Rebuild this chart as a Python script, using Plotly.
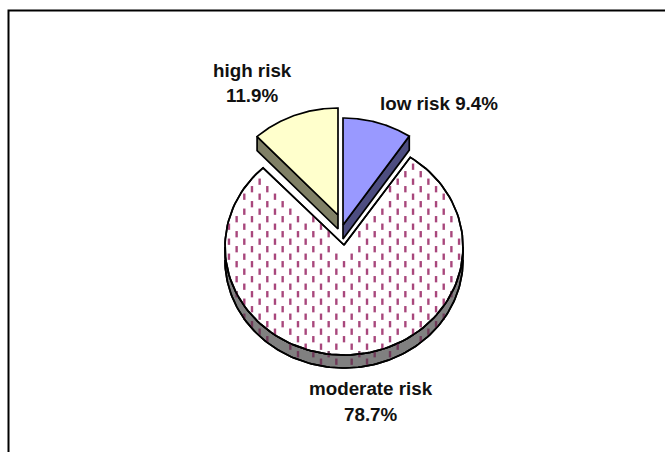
import numpy as np
import plotly.graph_objects as go

# Data
categories = ["low risk", "moderate risk", "high risk"]
values = [9.4, 78.7, 11.9]

W, H = 665, 452
FONT = "Liberation Sans, Arial, sans-serif"
OUT = "#000000"
DEPTH = 14
RX = 119


def arc(cx, cy, ry, a0, a1, n=120):
    t = np.radians(np.linspace(a0, a1, n))
    return cx + RX * np.sin(t), cy - ry * np.cos(t)


edges = np.concatenate([[0], np.cumsum(values)]) * 3.6
fig = go.Figure()


def poly(x, y, fill, width=1.7):
    x = np.append(x, x[0])
    y = np.append(y, y[0])
    fig.add_trace(go.Scatter(x=x, y=y, mode="lines", fill="toself", fillcolor=fill,
                             line=dict(color=OUT, width=width), hoverinfo="skip", showlegend=False))


# Moderate slice (index 1): depth band, face, dashes, outline
cx, cy, ry = 344, 247, 108
apex_y = 245
a0, a1 = edges[1], edges[2]
bx, by = arc(cx, cy, ry, 90, 270)
poly(np.concatenate([bx, bx[::-1]]), np.concatenate([by + DEPTH - 1, by[::-1]]), "#808080")
mx, my = arc(cx, cy, ry, a0, a1)
poly(np.concatenate([[cx], mx]), np.concatenate([[apex_y], my]), "#FFFFFF")

gx, gy, sx, sy = [], [], [], []
for i in range(-4, 32):
    for j in range(-8, 14):
        x = 244.3 + 7.67 * i
        y = 226.7 + 15 * j + (7.5 if i % 2 else 0)
        dx, dy = (x - cx) / RX, (y - cy) / ry
        ang = np.degrees(np.arctan2(dx, -dy)) % 360
        inside = dx * dx + dy * dy < 0.97
        if inside and a0 + 2 < ang < a1 - 2 and np.hypot(x - cx, y - apex_y) > 10:
            gx.append(x)
            gy.append(y)
        else:
            dy2 = (y - cy - DEPTH + 1) / ry
            if dx * dx + dy2 * dy2 < 0.98 and dy > 0 and dx * dx + dy * dy >= 1.0:
                sx.append(x)
                sy.append(y)
fig.add_trace(go.Scatter(x=gx, y=gy, mode="markers", hoverinfo="skip", showlegend=False,
                         marker=dict(symbol="line-ns", size=4.5, color="#993366",
                                     line=dict(color="#A8477C", width=2.4))))
fig.add_trace(go.Scatter(x=sx, y=sy, mode="markers", hoverinfo="skip", showlegend=False,
                         marker=dict(symbol="line-ns", size=4.5, color="#6E3A58",
                                     line=dict(color="#6E3A58", width=2.4))))
fig.add_trace(go.Scatter(x=np.concatenate([[cx], mx, [cx]]), y=np.concatenate([[apex_y], my, [apex_y]]),
                         mode="lines", line=dict(color=OUT, width=1.7), hoverinfo="skip", showlegend=False))
fig.add_trace(go.Scatter(x=bx, y=by + DEPTH - 1,
                         mode="lines", line=dict(color=OUT, width=1.7), hoverinfo="skip", showlegend=False))

# High slice (index 2)
cx, cy, ry = 338, 215, 107
hx, hy = arc(cx, cy, ry, edges[2], edges[3])
poly(np.array([cx, hx[0], hx[0], cx]), np.array([cy, hy[0], hy[0] + DEPTH, cy + DEPTH]), "#808066")
poly(np.concatenate([[cx], hx]), np.concatenate([[cy], hy]), "#FFFFCC")

# Low slice (index 0)
cx, cy, ry = 343, 225, 107
lx, ly = arc(cx, cy, ry, edges[0], edges[1])
poly(np.array([cx, lx[-1], lx[-1], cx]), np.array([cy, ly[-1], ly[-1] + DEPTH, cy + DEPTH]), "#4D4D80")
poly(np.concatenate([[cx], lx]), np.concatenate([[cy], ly]), "#9999FF")

# Frame: top and left edges only
fig.add_trace(go.Scatter(x=[8.5, 8.5, W], y=[H, 10.5, 10.5], mode="lines", cliponaxis=False,
                         line=dict(color=OUT, width=2), hoverinfo="skip", showlegend=False))


def note(x, y, text):
    fig.add_annotation(x=x, y=y, text=text, showarrow=False, xanchor="center", yanchor="middle",
                       font=dict(family=FONT, size=18.8, color="#111111"))


note(439, 103, f"<b>{categories[0]} {values[0]}%</b>")
note(371, 388, f"<b>{categories[1]}</b>")
note(371, 414, f"<b>{values[1]}%</b>")
note(252, 70, f"<b>{categories[2]}</b>")
note(252, 95, f"<b>{values[2]}%</b>")

fig.update_layout(width=W, height=H, margin=dict(l=0, r=0, t=0, b=0),
                  paper_bgcolor="white", plot_bgcolor="white", showlegend=False,
                  xaxis=dict(range=[0, W], visible=False, fixedrange=True),
                  yaxis=dict(range=[H, 0], visible=False, fixedrange=True))
fig.write_html("out.html", config={"displayModeBar": False},
               post_script="document.body.style.margin='0';document.body.style.overflow='hidden';")
